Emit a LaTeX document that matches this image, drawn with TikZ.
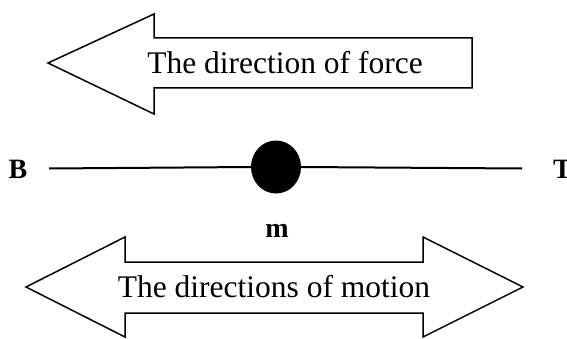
\documentclass[tikz,border=0pt]{standalone}
\usepackage{fontspec}
\setmainfont{Liberation Serif}
\usetikzlibrary{calc,shapes.geometric}
\tikzset{
  x=1pt, y=1pt,
  arrowshape/.style={draw=black, line width=1.5pt, line join=miter, fill=white},
  bigtext/.style={font=\fontsize{31.5}{36}\selectfont, inner sep=0pt},
  lbl/.style={font=\fontsize{28}{32}\selectfont\bfseries, inner sep=0pt},
  rod/.style={draw=black, line width=2pt},
  mass/.style={ellipse, fill=black, minimum width=50pt, minimum height=53pt, inner sep=0pt},
}
\begin{document}
\begin{tikzpicture}
\clip (0,0) rectangle (567,338);
\fill[white] (0,0) rectangle (567,338);
% top arrow: direction of force
\draw[arrowshape] (48,275) -- (154,324) -- (154,300) -- (472,300) -- (472,250) -- (154,250) -- (154,224) -- cycle;
\node[bigtext] (force) at (285,275) {The direction of force};
% rod with mass
\node[lbl] (B) at (18,169) {B};
\node[lbl, anchor=west] (T) at (553,169) {T};
\coordinate (L) at (49,169.5);
\coordinate (R) at (522,169.5);
\node[mass] (m) at (276,171) {};
\draw[rod] (L) -- (m.west);
\draw[rod] (m.east) -- (R);
\node[lbl] (mlab) at (277,107) {m};
% bottom arrow: directions of motion
\draw[arrowshape] (26,51) -- (125,101) -- (125,76) -- (423,76) -- (423,101) -- (523,51) -- (423,1) -- (423,25) -- (125,25) -- (125,1) -- cycle;
\node[bigtext] (motion) at (274,51) {The directions of motion};
\end{tikzpicture}
\end{document}
